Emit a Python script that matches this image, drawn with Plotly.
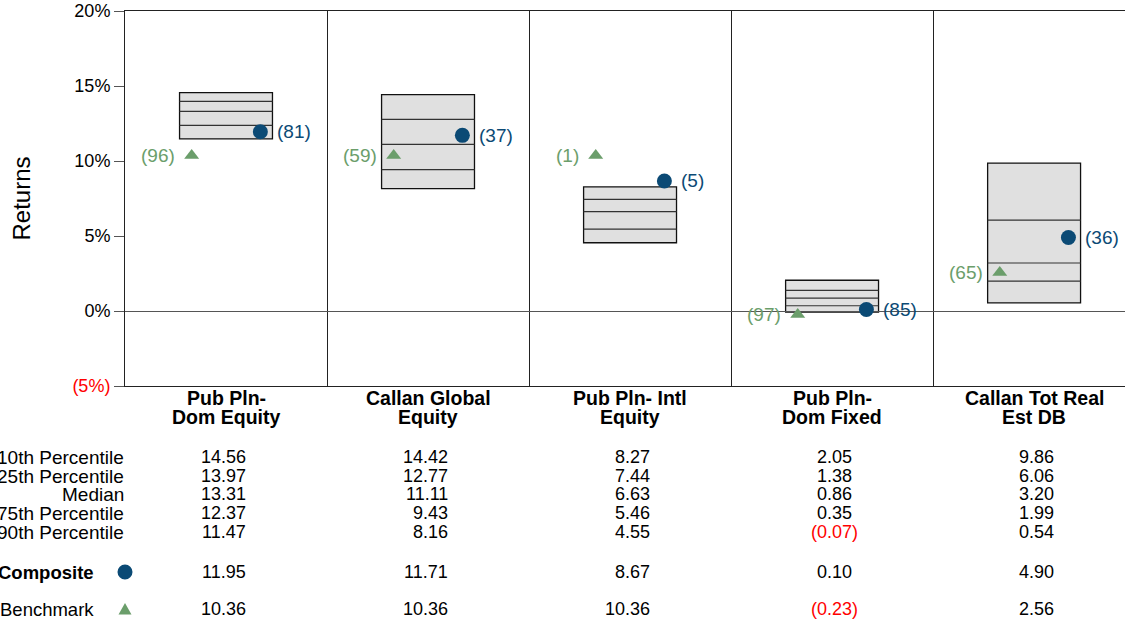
import plotly.graph_objects as go

# ---------------- data ----------------
cat_line1 = ["Pub Pln-", "Callan Global", "Pub Pln- Intl", "Pub Pln-", "Callan Tot Real"]
cat_line2 = ["Dom Equity", "Equity", "Equity", "Dom Fixed", "Est DB"]
p10 = [14.56, 14.42, 8.27, 2.05, 9.86]
p25 = [13.97, 12.77, 7.44, 1.38, 6.06]
med = [13.31, 11.11, 6.63, 0.86, 3.20]
p75 = [12.37, 9.43, 5.46, 0.35, 1.99]
p90 = [11.47, 8.16, 4.55, -0.07, 0.54]
composite = [11.95, 11.71, 8.67, 0.10, 4.90]
comp_rank = [81, 37, 5, 85, 36]
benchmark = [10.36, 10.36, 10.36, -0.23, 2.56]
bench_rank = [96, 59, 1, 97, 65]
row_labels = ["10th Percentile", "25th Percentile", "Median", "75th Percentile", "90th Percentile"]
y_ticks = [-5, 0, 5, 10, 15, 20]
y_ticktext = ["<span style='color:#ff0000'>(5%)</span>", "0%", "5%", "10%", "15%", "20%"]

# ---------------- style ----------------
FONT = "Liberation Sans, Arial, sans-serif"
BLUE = "#0b4a75"
GREEN = "#6b9e6b"
RED = "#ff0000"
n = len(p10)
BOX_L, BOX_R = 0.27, 0.73
DOT_X, TRI_X = 0.67, 0.33

TOP, BOTTOM = 11, 386
H = BOTTOM - TOP

def py2paper(py):
    return (BOTTOM - py) / H

fig = go.Figure()

shapes = []
for i in range(n):
    x0, x1 = i + BOX_L, i + BOX_R
    shapes.append(dict(type="rect", xref="x", yref="y", x0=x0, x1=x1, y0=p90[i], y1=p10[i],
                       fillcolor="#e0e0e0", line=dict(color="#111", width=1.3), layer="below"))
    for v in (p25[i], med[i], p75[i]):
        shapes.append(dict(type="line", xref="x", yref="y", x0=x0, x1=x1, y0=v, y1=v,
                           line=dict(color="#333", width=1.2), layer="below"))

# benchmark
fig.add_trace(go.Scatter(
    x=[i + TRI_X for i in range(n)], y=benchmark, mode="markers",
    marker=dict(symbol="triangle-up", size=13, color=GREEN), cliponaxis=False, showlegend=False))
# composite
fig.add_trace(go.Scatter(
    x=[i + DOT_X for i in range(n)], y=composite, mode="markers",
    marker=dict(symbol="circle", size=15, color=BLUE), cliponaxis=False, showlegend=False))

annotations = []
for i in range(n):
    annotations.append(dict(x=i + TRI_X, y=benchmark[i], xref="x", yref="y", text=f"({bench_rank[i]})",
                            showarrow=False, xanchor="right", yanchor="middle", xshift=-15,
                            font=dict(family=FONT, size=19, color=GREEN)))
    annotations.append(dict(x=i + DOT_X, y=composite[i], xref="x", yref="y", text=f"({comp_rank[i]})",
                            showarrow=False, xanchor="left", yanchor="middle", xshift=15,
                            font=dict(family=FONT, size=19, color=BLUE)))

# y title
annotations.append(dict(x=0, y=0.5, xref="paper", yref="paper", text="Returns", textangle=-90,
                        showarrow=False, xanchor="center", yanchor="middle", xshift=-104,
                        font=dict(family=FONT, size=24, color="#000")))

# category labels
for i in range(n):
    for txt, py in ((cat_line1[i], 398), (cat_line2[i], 417)):
        annotations.append(dict(x=i + 0.5, y=py2paper(py), xref="x", yref="paper", text=f"<b>{txt}</b>",
                                showarrow=False, xanchor="center", yanchor="middle",
                                font=dict(family=FONT, size=19.5, color="#000")))

def fmt(v):
    return f"({abs(v):.2f})" if v < 0 else f"{v:.2f}"

row_py = [457, 476, 494, 513, 532]
table = [p10, p25, med, p75, p90]
for label, py, vals in zip(row_labels, row_py, table):
    annotations.append(dict(x=0, y=py2paper(py), xref="paper", yref="paper", text=label, showarrow=False,
                            xanchor="right", yanchor="middle", xshift=1,
                            font=dict(family=FONT, size=19, color="#000")))
    for i, v in enumerate(vals):
        annotations.append(dict(x=i + 0.607, y=py2paper(py), xref="x", yref="paper", text=fmt(v),
                                showarrow=False, xanchor="right", yanchor="middle", xshift=6 if v < 0 else 0,
                                font=dict(family=FONT, size=18, color=RED if v < 0 else "#000")))

for label, py, vals, bold in (("Composite", 572, composite, True), ("Benchmark", 609, benchmark, False)):
    annotations.append(dict(x=0, y=py2paper(py), xref="paper", yref="paper",
                            text=f"<b>{label}</b>" if bold else label, showarrow=False,
                            xanchor="right", yanchor="middle", xshift=-29,
                            font=dict(family=FONT, size=18.5, color="#000")))
    for i, v in enumerate(vals):
        annotations.append(dict(x=i + 0.607, y=py2paper(py), xref="x", yref="paper", text=fmt(v),
                                showarrow=False, xanchor="right", yanchor="middle", xshift=6 if v < 0 else 0,
                                font=dict(family=FONT, size=18, color=RED if v < 0 else "#000")))

# table key markers (legend symbols beside row labels), sized in pixels
shapes.append(dict(type="circle", xref="paper", yref="paper", xsizemode="pixel", ysizemode="pixel",
                   xanchor=0, yanchor=py2paper(572), x0=-7.5, x1=7.5, y0=-7.5, y1=7.5,
                   fillcolor=BLUE, line=dict(width=0)))
shapes.append(dict(type="path", xref="paper", yref="paper", xsizemode="pixel", ysizemode="pixel",
                   xanchor=0, yanchor=py2paper(609), path="M -6.5,-5.5 L 6.5,-5.5 L 0,6 Z",
                   fillcolor=GREEN, line=dict(width=0)))

fig.update_layout(
    width=1125, height=623,
    margin=dict(l=125, r=0, t=TOP, b=623 - BOTTOM, autoexpand=False),
    paper_bgcolor="white", plot_bgcolor="white",
    shapes=shapes, annotations=annotations,
    font=dict(family=FONT, color="#000"),
    xaxis=dict(range=[0, 4.95], tickvals=[1, 2, 3, 4], showticklabels=False, ticks="",
               showgrid=True, gridcolor="#222", gridwidth=1, automargin=False,
               showline=True, mirror=True, linecolor="#222", linewidth=1, zeroline=False, fixedrange=True),
    yaxis=dict(range=[-5, 20], tickvals=y_ticks, ticktext=y_ticktext, ticks="outside", ticklen=10,
               tickcolor="#555", tickfont=dict(family=FONT, size=18, color="#000"), automargin=False,
               ticklabeloverflow="allow",
               showgrid=False, zeroline=True, zerolinecolor="#555", zerolinewidth=1,
               showline=True, mirror=True, linecolor="#222", linewidth=1),
)

fig.write_html("out.html", config={"displayModeBar": False},
               post_script="document.body.style.margin='0px';")
